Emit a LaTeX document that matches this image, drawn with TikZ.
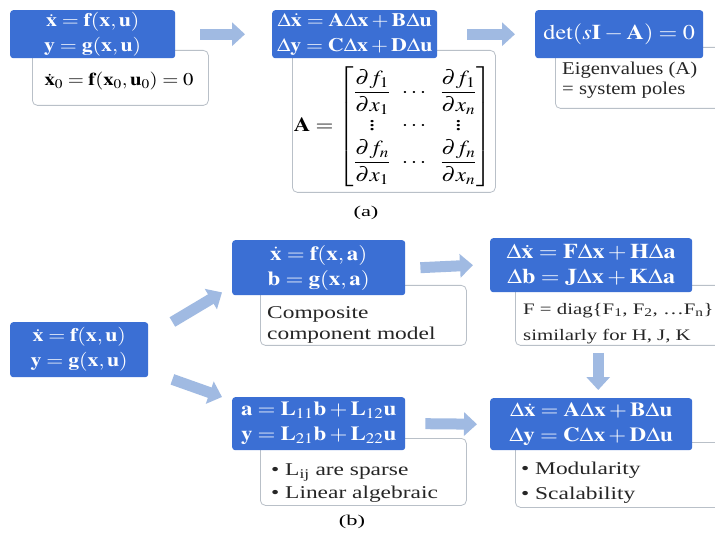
\documentclass[tikz,border=0pt]{standalone}
\usepackage{amsmath}
\usepackage{mathptmx}
\usepackage[no-math]{fontspec}
\setmainfont[FakeStretch=1.15]{Liberation Serif}
\newfontfamily\widefont[FakeStretch=1.3]{Liberation Serif}
\usetikzlibrary{arrows.meta}
\definecolor{boxblue}{RGB}{59,111,212}
\definecolor{arrowblue}{RGB}{160,186,226}
\definecolor{wborder}{RGB}{185,192,200}
\newcommand{\stretchx}[1]{\scalebox{1.15}[1]{#1}}
\newcommand{\twoline}[2]{\stretchx{$#1$}\\\stretchx{$#2$}}
\tikzset{
  bluebox/.style={draw=none, fill=boxblue, rounded corners=3pt, anchor=north west, inner sep=2pt,
    text=white, align=center, font=\fontsize{19}{25}\selectfont},
  bigblue/.style={bluebox, font=\fontsize{20}{25}\selectfont},
  whitebox/.style={draw=wborder, line width=0.8pt, fill=white, rounded corners=5pt, anchor=north west, inner sep=0pt},
  wtext/.style={anchor=north west, inner sep=0pt, align=left, text=black!85, font=\fontsize{18}{20}\selectfont},
  bigarrow/.style={draw=arrowblue, line width=11pt, -{Triangle[length=13pt, width=23pt]}},
  lbl/.style={inner sep=0pt, font=\fontsize{15}{17}\selectfont}
}
\begin{document}
\begin{tikzpicture}[x=1pt, y=-1pt]
\useasboundingbox (0,0) rectangle (715,545);
\fill[white] (0,0) rectangle (715,545);
% ---------- (a) ----------
\node[whitebox, minimum width=176pt, minimum height=55pt] (w1) at (32,50) {};
\node[bluebox, minimum width=165pt, minimum height=48pt] (b1) at (10,10)
  {\twoline{\dot{\mathbf{x}} = \mathbf{f}(\mathbf{x},\mathbf{u})}{\mathbf{y} = \mathbf{g}(\mathbf{x},\mathbf{u})}};
\node[inner sep=0pt, font=\fontsize{18}{20}\selectfont] (t1) at (119,81)
  {\stretchx{$\dot{\mathbf{x}}_0 = \mathbf{f}(\mathbf{x}_0,\mathbf{u}_0) = 0$}};

\node[whitebox, minimum width=203pt, minimum height=142pt] (w2) at (292,50) {};
\node[bluebox, minimum width=165pt, minimum height=48pt] (b2) at (272,10)
  {\twoline{\Delta\dot{\mathbf{x}} = \mathbf{A}\Delta\mathbf{x} + \mathbf{B}\Delta\mathbf{u}}{\Delta\mathbf{y} = \mathbf{C}\Delta\mathbf{x} + \mathbf{D}\Delta\mathbf{u}}};
\node[inner sep=0pt, font=\fontsize{20}{22}\selectfont] (t2) at (393,127)
  {\stretchx{\setlength{\arraycolsep}{5pt}$\mathbf{A} = \begin{bmatrix} \dfrac{\partial f_1}{\partial x_1} & \cdots & \dfrac{\partial f_1}{\partial x_n}\\[3pt]
   \vdots & \cdots & \vdots \\[2pt]
   \dfrac{\partial f_n}{\partial x_1} & \cdots & \dfrac{\partial f_n}{\partial x_n}\end{bmatrix}$}};

\node[whitebox, minimum width=175pt, minimum height=61pt] (w3) at (555,47) {};
\node[bluebox, minimum width=168pt, minimum height=48pt, font=\fontsize{21}{25}\selectfont] (b3) at (535,10)
  {\stretchx{$\mathrm{det}(s\mathbf{I} - \mathbf{A}) = 0$}};
\node[wtext] (t3) at (562,62) {Eigenvalues (A)\\= system poles};

\draw[bigarrow] ([xshift=25pt]b1.east) -- ([xshift=-27pt]b2.west);
\draw[bigarrow] ([xshift=30pt]b2.east) -- ([xshift=-20pt]b3.west);

\node[lbl] (la) at (366,213) {\scalebox{1.3}[1]{(a)}};

% ---------- (b) ----------
\node[bluebox, minimum width=138pt, minimum height=55pt] (b4) at (10,322)
  {\twoline{\dot{\mathbf{x}} = \mathbf{f}(\mathbf{x},\mathbf{u})}{\mathbf{y} = \mathbf{g}(\mathbf{x},\mathbf{u})}};

\node[whitebox, minimum width=206pt, minimum height=60pt] (w5) at (260,285) {};
\node[bigblue, minimum width=173pt, minimum height=55pt] (b5) at (232,240)
  {\twoline{\dot{\mathbf{x}} = \mathbf{f}(\mathbf{x},\mathbf{a})}{\mathbf{b} = \mathbf{g}(\mathbf{x},\mathbf{a})}};
\node[wtext, font=\widefont\fontsize{18}{21}\selectfont] (t5) at (267,306) {Composite\\component model};

\node[whitebox, minimum width=215pt, minimum height=60pt] (w6) at (515,285) {};
\node[bigblue, minimum width=202pt, minimum height=54pt, font=\fontsize{21}{25}\selectfont] (b6) at (490,238)
  {\twoline{\Delta\dot{\mathbf{x}} = \mathbf{F}\Delta\mathbf{x} + \mathbf{H}\Delta\mathbf{a}}{\Delta\mathbf{b} = \mathbf{J}\Delta\mathbf{x} + \mathbf{K}\Delta\mathbf{a}}};
\node[wtext, font=\widefont\fontsize{16}{26}\selectfont] (t6) at (523,303) {F = diag\{F\textsubscript{1}, F\textsubscript{2}, …F\textsubscript{n}\}\\similarly for H, J, K};

\node[whitebox, minimum width=206pt, minimum height=67pt] (w7) at (260,438) {};
\node[bigblue, minimum width=173pt, minimum height=53pt] (b7) at (232,397)
  {\twoline{\mathbf{a} = \mathbf{L}_{11}\mathbf{b} + \mathbf{L}_{12}\mathbf{u}}{\mathbf{y} = \mathbf{L}_{21}\mathbf{b} + \mathbf{L}_{22}\mathbf{u}}};
\node[wtext, font=\widefont\fontsize{18}{23}\selectfont] (t7) at (271,464) {• L\textsubscript{ij} are sparse\\• Linear algebraic};

\node[whitebox, minimum width=215pt, minimum height=65pt] (w8) at (515,442) {};
\node[bigblue, minimum width=202pt, minimum height=52pt] (b8) at (490,398)
  {\twoline{\Delta\dot{\mathbf{x}} = \mathbf{A}\Delta\mathbf{x} + \mathbf{B}\Delta\mathbf{u}}{\Delta\mathbf{y} = \mathbf{C}\Delta\mathbf{x} + \mathbf{D}\Delta\mathbf{u}}};
\node[wtext, font=\widefont\fontsize{18}{25}\selectfont] (t8) at (521,462) {• Modularity\\• Scalability};

\draw[bigarrow] ([shift={(24pt,0pt)}]b4.north east) -- ([shift={(-10pt,3pt)}]b5.south west);
\draw[bigarrow] ([shift={(24pt,-2pt)}]b4.south east) -- ([shift={(-10pt,0pt)}]b7.north west);
\draw[bigarrow] ([xshift=15pt]b5.east) -- ([xshift=-17pt]b6.west);
\draw[bigarrow] ([shift={(7pt,-7pt)}]w6.south -| b8.north) -- ([shift={(7pt,8pt)}]b8.north);
\draw[bigarrow] ([xshift=20pt]b7.east) -- ([xshift=-13pt]b8.west);

\node[lbl] (lb) at (352,522) {\scalebox{1.3}[1]{(b)}};
\end{tikzpicture}
\end{document}
